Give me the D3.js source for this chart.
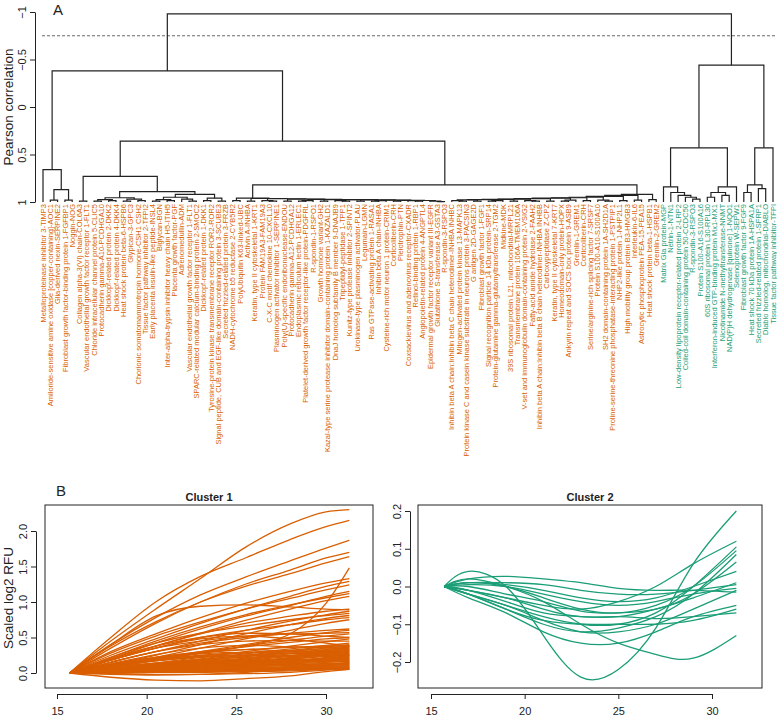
<!DOCTYPE html>
<html>
<head>
<meta charset="utf-8">
<script src="https://cdn.jsdelivr.net/npm/d3@7"></script>
<style>
  body { margin: 0; background: #fff; }
  text { font-family: Arial, "Liberation Sans", sans-serif; }
</style>
</head>
<body>
<svg id="chart" width="777" height="717"></svg>
<script>
// protein labels, leaf order of the dendrogram
var proteinsCluster1 = [
  "Metalloproteinase inhibitor 3-TIMP3",
  "Amiloride-sensitive amine oxidase [copper-containing]-AOC1",
  "Glia-derived nexin-SERPINE2",
  "Fibroblast growth factor-binding protein 1-FGFBP1",
  "Noggin-NOG",
  "Collagen alpha-3(VI) chain-COL6A3",
  "Vascular endothelial growth factor receptor 1-FLT1",
  "Chloride intracellular channel protein 5-CLIC5",
  "Protocadherin gamma-A10-PCDHGA10",
  "Dickkopf-related protein 2-DKK2",
  "Dickkopf-related protein 4-DKK4",
  "Heat shock protein beta-6-HSPB6",
  "Glypican-3-GPC3",
  "Chorionic somatomammotropin hormone-CSH1 CSH2",
  "Tissue factor pathway inhibitor 2-TFPI2",
  "Early placenta insulin-like peptide-INSL4",
  "Biglycan-BGN",
  "Inter-alpha-trypsin inhibitor heavy chain H5-ITIH5",
  "Placenta growth factor-PGF",
  "Adrenomedullin-ADM",
  "Vascular endothelial growth factor receptor 1-FLT1",
  "SPARC-related modular calcium-binding protein 2-SMOC2",
  "Dickkopf-related protein 1-DKK1",
  "Tyrosine-protein kinase transmembrane receptor ROR2-ROR2",
  "Signal peptide, CUB and EGF-like domain-containing protein 3-SCUBE3",
  "Secreted frizzled-related protein 3-FRZB",
  "NADH-cytochrome b5 reductase 2-CYB5R2",
  "PolyUbiquitin K63-linked-UBC",
  "Activin A-INHBA",
  "Keratin, type II cytoskeletal 1-KRT1",
  "Protein FAM19A3-FAM19A3",
  "C-X-C motif chemokine 10-CXCL10",
  "Plasminogen activator inhibitor 1-SERPINE1",
  "Poly(U)-specific endoribonuclease-ENDOU",
  "Protocadherin gamma-A12-PCDHGA12",
  "Endoplasmic reticulum lectin 1-ERLEC1",
  "Platelet-derived growth factor receptor-like protein-PDGFRL",
  "R-spondin-1-RSPO1",
  "Growth hormone variant-GH2",
  "Kazal-type serine protease inhibitor domain-containing protein 1-KAZALD1",
  "DnaJ homolog subfamily B member 9-DNAJB9",
  "Tripeptidyl-peptidase 1-TPP1",
  "Kunitz-type protease inhibitor 2-SPINT2",
  "Urokinase-type plasminogen activator-PLAU",
  "Legumain-LGMN",
  "Ras GTPase-activating protein 1-RASA1",
  "Inhibin beta A chain-INHBA",
  "Cysteine-rich motor neuron 1 protein-CRIM1",
  "Corticoliberin-CRH",
  "Pleiotrophin-PTN",
  "Coxsackievirus and adenovirus receptor-CXADR",
  "Retinol-binding protein 1-RBP1",
  "Angiopoietin-related protein 4-ANGPTL4",
  "Epidermal growth factor receptor variant III-EGFR",
  "Glutathione S-transferase A3-GSTA3",
  "R-spondin-3-RSPO3",
  "Inhibin beta A chain:Inhibin beta C chain heterodimer-INHBA INHBC",
  "Mitogen-activated protein kinase 13-MAPK13",
  "Protein kinase C and casein kinase substrate in neurons protein 3-PACSIN3",
  "G antigen 2D-GAGE2D",
  "Fibroblast growth factor 1-FGF1",
  "Signal recognition particle 14 kDa protein-SRP14",
  "Protein-glutamine gamma-glutamyltransferase 2-TGM2",
  "Midkine-MDK",
  "39S ribosomal protein L21, mitochondrial-MRPL21",
  "Transmembrane protein 106A-TMEM106A",
  "V-set and immunoglobulin domain-containing protein 2-VSIG2",
  "Fatty-acid amide hydrolase 2-FAAH2",
  "Inhibin beta A chain:Inhibin beta B chain heterodimer-INHBA INHBB",
  "Carboxypeptidase Z-CPZ",
  "Keratin, type II cytoskeletal 7-KRT7",
  "Homeodomain-only protein-HOPX",
  "Ankyrin repeat and SOCS box protein 9-ASB9",
  "Gremlin-1-GREM1",
  "Corticoliberin-CRH",
  "Serine/arginine-rich splicing factor 7-SRSF7",
  "Protein S100-A10-S100A10",
  "SH2 domain-containing protein 1A-SH2D1A",
  "Proline-serine-threonine phosphatase-interacting protein 1-PSTPIP1",
  "NHP2-like protein 1-NHP2L1",
  "High mobility group protein B3-HMGB3",
  "Interleukin-6-IL6",
  "Astrocytic phosphoprotein PEA-15-PEA15",
  "Heat shock protein beta-1-HSPB1",
  "Gremlin-2-GREM2"
];
var proteinsCluster2 = [
  "Matrix Gla protein-MGP",
  "Netrin-1-NTN1",
  "Low-density lipoprotein receptor-related protein 2-LRP2",
  "Coiled-coil domain-containing protein 50-CCDC50",
  "R-spondin-3-RSPO3",
  "Protein S100-A16-S100A16",
  "60S ribosomal protein L30-RPL30",
  "Interferon-induced GTP-binding protein Mx1-MX1",
  "Nicotinamide N-methyltransferase-NNMT",
  "NAD(P)H dehydrogenase [quinone] 1-NQO1",
  "Selenoprotein W-SEPW1",
  "Fibroblast growth factor 9-FGF9",
  "Heat shock 70 kDa protein 1A-HSPA1A",
  "Secreted frizzled-related protein 1-SFRP1",
  "Diablo homolog, mitochondrial-DIABLO",
  "Tissue factor pathway inhibitor-TFPI"
];

// dendrogram merges: [height, left, right]; a number is a leaf index
var middleLeft = [0.96, [0.985, 26, 27],
  [0.963, [0.99, 28, 29],
  [0.966, [0.985, 30, [0.99, 31, 32]],
  [0.969, [0.99, 33, 34],
  [0.972, [0.985, [0.99, 35, 36], 37],
  [0.974, [0.99, 38, 39],
  [0.976, [0.985, 40, [0.99, 41, 42]],
  [0.978, [0.99, 43, 44],
  [0.98, [0.985, [0.99, 45, 46], 47],
  [0.982, [0.99, 48, 49],
  [0.984, [0.985, 50, [0.99, 51, 52]], [0.99, 53, [0.995, 54, 55]]]]]]]]]]]]];

var middleRight = [0.92,
  [0.93,
  [0.94,
  [0.95,
  [0.955,
  [0.96,
  [0.965,
  [0.97,
  [0.972,
  [0.975,
    [0.978, [0.985, 56, [0.99, 57, 58]], [0.99, 59, 60]],
    [0.985, [0.99, 61, 62], 63]],
    [0.99, 64, 65]],
    [0.985, 66, [0.99, 67, 68]]],
    [0.99, 69, 70]],
    [0.98, [0.99, 71, 72], 73]],
    [0.985, 74, 75]],
    [0.98, 76, [0.99, 77, 78]]],
    [0.985, 79, 80]],
    [0.98, 81, 82]],
    [0.975, 83, 84]];

var greenBranch = [-0.44,
  [0.43,
    [0.84, 85, [0.9, 86, [0.93, 87, [0.95, 88, [0.97, 89, 90]]]]],
    [0.84, [0.9, [0.95, 91, 92], [0.93, 93, 94]], 95]],
  [0.43,
    [0.82, [0.9, 96, 97], [0.86, 98, 99]],
    100]];

var tree = [-0.98,
  [-0.38,
    [0.66, 0, [0.87, [0.98, 1, 2], [0.98, 3, 4]]],
    [0.36,
      [0.73, [0.99, 5, 6],
        [0.89,
          [0.955, [0.975, [0.99, 7, 8], [0.985, 9, 10]], [0.97, [0.99, 11, 12], [0.985, 13, 14]]],
          [0.92, [0.95, [0.975, [0.99, 15, 16], [0.985, 17, 18]], [0.97, 19, [0.99, 20, 21]]],
            [0.96, [0.985, 22, 23], [0.99, 24, 25]]]]],
      [0.82, middleLeft, middleRight]]],
  greenBranch];

var heightTicks = [-1, -0.5, 0, 0.5, 1];
var cutHeight = -0.75;

// scaled log2 RFU per protein, cluster 1
var days1 = [15.7, 18, 20.5, 23, 25.5, 28, 30, 31.3];
var rfuCluster1 = [
  [0, 0.45, 0.9, 1.33, 1.77, 2.1, 2.27, 2.3],
  [0, 0.5, 1.0, 1.36, 1.62, 1.88, 2.06, 2.15],
  [0, 0.4, 0.78, 1.1, 1.35, 1.58, 1.76, 1.87],
  [0, 0.35, 0.7, 1.0, 1.25, 1.45, 1.62, 1.7],
  [0, 0.38, 0.72, 1.0, 1.22, 1.4, 1.55, 1.64],
  [0, 0.1, 0.2, 0.28, 0.38, 0.55, 0.98, 1.48],
  [0, 0.3, 0.55, 0.78, 0.98, 1.15, 1.27, 1.33],
  [0, 0.25, 0.48, 0.7, 0.9, 1.08, 1.22, 1.29],
  [0, 0.28, 0.52, 0.72, 0.9, 1.05, 1.17, 1.24],
  [0, 0.2, 0.42, 0.62, 0.8, 0.95, 1.08, 1.15],
  [0, 0.22, 0.45, 0.65, 0.82, 0.96, 1.06, 1.12],
  [0, 0.18, 0.38, 0.56, 0.74, 0.9, 1.02, 1.08],
  [0, 0.4, 0.8, 0.94, 0.96, 0.93, 0.9, 0.89],
  [0, 0.2, 0.38, 0.55, 0.7, 0.8, 0.87, 0.9],
  [0, 0.15, 0.3, 0.45, 0.6, 0.73, 0.82, 0.87],
  [0, 0.22, 0.42, 0.56, 0.66, 0.75, 0.81, 0.84],
  [0, 0.12, 0.25, 0.4, 0.55, 0.68, 0.77, 0.81],
  [0, 0.18, 0.35, 0.5, 0.6, 0.68, 0.75, 0.78],
  [0, 0.1, 0.22, 0.35, 0.48, 0.6, 0.7, 0.75],
  [0, 0.2, 0.38, 0.5, 0.56, 0.55, 0.52, 0.5],
  [0, 0.15, 0.3, 0.42, 0.5, 0.56, 0.6, 0.62],
  [0, 0.1, 0.2, 0.3, 0.4, 0.5, 0.57, 0.6],
  [0, 0.18, 0.35, 0.45, 0.52, 0.55, 0.56, 0.57],
  [0, 0.08, 0.18, 0.28, 0.38, 0.46, 0.52, 0.55],
  [0, 0.12, 0.22, 0.3, 0.37, 0.43, 0.48, 0.5],
  [0, 0.06, 0.14, 0.22, 0.3, 0.38, 0.44, 0.48],
  [0, 0.15, 0.3, 0.4, 0.45, 0.46, 0.45, 0.45],
  [0, 0.05, 0.12, 0.2, 0.27, 0.34, 0.39, 0.42],
  [0, -0.06, -0.1, -0.11, -0.08, -0.04, 0.02, 0.05],
  [0, 0.18, 0.35, 0.48, 0.52, 0.48, 0.42, 0.38],
  [0, 0.06, 0.12, 0.19, 0.25, 0.32, 0.37, 0.40],
  [0, 0.12, 0.21, 0.28, 0.33, 0.36, 0.38, 0.39],
  [0, 0.02, 0.05, 0.08, 0.14, 0.22, 0.30, 0.38],
  [0, 0.13, 0.26, 0.35, 0.39, 0.37, 0.36, 0.37],
  [0, 0.05, 0.11, 0.17, 0.23, 0.28, 0.33, 0.36],
  [0, 0.11, 0.19, 0.25, 0.29, 0.32, 0.34, 0.35],
  [0, 0.05, 0.11, 0.16, 0.21, 0.27, 0.31, 0.34],
  [0, 0.02, 0.04, 0.07, 0.13, 0.19, 0.26, 0.33],
  [0, 0.05, 0.10, 0.15, 0.20, 0.25, 0.29, 0.32],
  [0, 0.11, 0.22, 0.29, 0.33, 0.31, 0.30, 0.31],
  [0, 0.09, 0.17, 0.22, 0.25, 0.28, 0.29, 0.30],
  [0, 0.04, 0.09, 0.14, 0.18, 0.23, 0.27, 0.29],
  [0, 0.01, 0.03, 0.06, 0.11, 0.16, 0.22, 0.28],
  [0, 0.04, 0.08, 0.13, 0.17, 0.21, 0.25, 0.27],
  [0, 0.08, 0.14, 0.19, 0.22, 0.24, 0.25, 0.26],
  [0, 0.04, 0.08, 0.12, 0.16, 0.20, 0.23, 0.25],
  [0, 0.08, 0.17, 0.23, 0.25, 0.24, 0.24, 0.24],
  [0, 0.03, 0.07, 0.11, 0.14, 0.18, 0.21, 0.23],
  [0, 0.01, 0.03, 0.05, 0.08, 0.13, 0.18, 0.22],
  [0, 0.06, 0.12, 0.15, 0.18, 0.19, 0.20, 0.21],
  [0, 0.03, 0.06, 0.09, 0.13, 0.16, 0.18, 0.20],
  [0, 0.03, 0.06, 0.09, 0.12, 0.15, 0.17, 0.19],
  [0, 0.06, 0.13, 0.17, 0.19, 0.18, 0.18, 0.18],
  [0, 0.05, 0.09, 0.12, 0.14, 0.16, 0.16, 0.17],
  [0, 0.02, 0.05, 0.08, 0.10, 0.13, 0.15, 0.16],
  [0, 0.01, 0.02, 0.03, 0.06, 0.09, 0.12, 0.15],
  [0, 0.02, 0.04, 0.07, 0.09, 0.11, 0.13, 0.14],
  [0, 0.04, 0.07, 0.09, 0.11, 0.12, 0.13, 0.13],
  [0, 0.02, 0.04, 0.06, 0.08, 0.09, 0.11, 0.12],
  [0, 0.04, 0.08, 0.10, 0.12, 0.11, 0.11, 0.11],
  [0, 0.02, 0.03, 0.05, 0.06, 0.08, 0.09, 0.10],
  [0, 0.00, 0.01, 0.02, 0.03, 0.05, 0.07, 0.09],
  [0, 0.01, 0.02, 0.04, 0.05, 0.06, 0.07, 0.08],
  [0, 0.02, 0.04, 0.05, 0.06, 0.06, 0.07, 0.07],
  [0, 0.01, 0.02, 0.03, 0.04, 0.05, 0.06, 0.06],
  [0, 0.01, 0.02, 0.02, 0.03, 0.04, 0.05, 0.05],
  [0, 0.06, 0.12, 0.18, 0.24, 0.30, 0.35, 0.38],
  [0, 0.02, 0.04, 0.08, 0.13, 0.20, 0.28, 0.35],
  [0, 0.10, 0.18, 0.24, 0.28, 0.30, 0.32, 0.33],
  [0, 0.05, 0.09, 0.14, 0.19, 0.24, 0.28, 0.30],
  [0, 0.10, 0.20, 0.27, 0.29, 0.28, 0.27, 0.28],
  [0, 0.04, 0.08, 0.12, 0.16, 0.21, 0.24, 0.26],
  [0, 0.01, 0.03, 0.05, 0.09, 0.14, 0.19, 0.24],
  [0, 0.03, 0.07, 0.10, 0.14, 0.17, 0.20, 0.22],
  [0, 0.06, 0.11, 0.14, 0.17, 0.18, 0.19, 0.20],
  [0, 0.03, 0.06, 0.08, 0.11, 0.14, 0.17, 0.18],
  [0, 0.06, 0.11, 0.15, 0.17, 0.16, 0.16, 0.16],
  [0, 0.01, 0.02, 0.03, 0.05, 0.08, 0.11, 0.14],
  [0, 0.04, 0.07, 0.09, 0.10, 0.11, 0.12, 0.12],
  [0, 0.02, 0.03, 0.05, 0.06, 0.08, 0.09, 0.10],
  [0, 0.03, 0.06, 0.08, 0.08, 0.08, 0.08, 0.08],
  [0, 0.00, 0.01, 0.01, 0.02, 0.03, 0.05, 0.06],
  [0, 0.08, 0.14, 0.16, 0.15, 0.17, 0.21, 0.25],
  [0, -0.02, -0.03, -0.02, 0.01, 0.05, 0.10, 0.15],
  [0, -0.01, -0.02, -0.02, -0.01, 0.01, 0.04, 0.07]
];

// cluster 2
var days2 = [15.7, 17, 19, 21, 23, 25, 27, 29, 31.3];
var rfuCluster2 = [
  [0, 0.04, 0.0, -0.13, -0.24, -0.22, -0.11, 0.06, 0.2],
  [0, 0.02, 0.0, -0.04, -0.1, -0.15, -0.18, -0.19, -0.13],
  [0, 0.02, 0.027, 0.02, 0.01, -0.005, -0.01, -0.01, -0.015],
  [0, -0.01, -0.03, -0.05, -0.06, -0.04, 0.0, 0.06, 0.12],
  [0, -0.02, -0.05, -0.08, -0.1, -0.1, -0.07, 0.0, 0.105],
  [0, 0.01, 0.0, -0.03, -0.06, -0.07, -0.05, 0.0, 0.095],
  [0, -0.02, -0.06, -0.1, -0.12, -0.11, -0.08, -0.02, 0.085],
  [0, 0.0, -0.02, -0.04, -0.065, -0.07, -0.06, -0.02, 0.065],
  [0, 0.01, 0.005, -0.01, -0.03, -0.04, -0.03, 0.0, 0.04],
  [0, -0.01, -0.04, -0.07, -0.08, -0.08, -0.06, -0.03, 0.01],
  [0, 0.01, 0.01, 0.005, -0.01, -0.02, -0.02, -0.01, 0.005],
  [0, 0.005, 0.0, -0.02, -0.04, -0.05, -0.04, -0.02, -0.005],
  [0, -0.02, -0.05, -0.09, -0.12, -0.12, -0.1, -0.06, -0.01],
  [0, -0.03, -0.07, -0.12, -0.15, -0.15, -0.12, -0.08, -0.05],
  [0, -0.02, -0.06, -0.09, -0.1, -0.1, -0.1, -0.09, -0.06],
  [0, -0.01, -0.03, -0.06, -0.08, -0.08, -0.085, -0.08, -0.07]
];

var dayTicks = [15, 20, 25, 30];
var rfuTicks1 = [0, 0.5, 1, 1.5, 2];
var rfuTicks2 = [-0.2, -0.1, 0, 0.1, 0.2];

var orange = "#d95f02", green = "#1b9e77", ink = "#222";
var svg = d3.select("#chart");
var labels = proteinsCluster1.concat(proteinsCluster2);

// ---------- A: dendrogram ----------
var xLeaf = d3.scalePoint().domain(d3.range(labels.length)).range([43, 773]);
var yDend = d3.scaleLinear().domain([-1, 1]).range([12, 202]);

// R style: tick labels parallel to the y axis
function rotateTicks(ax, off) {
  ax.selectAll(".tick text")
    .attr("transform", "rotate(-90)")
    .attr("x", 0).attr("y", -off).attr("dy", 0)
    .style("text-anchor", "middle");
}

var axA = svg.append("g").attr("transform", "translate(35,0)")
  .call(d3.axisLeft(yDend).tickValues(heightTicks).tickSize(5).tickSizeOuter(0)
    .tickFormat(function(d) { return d3.format("")(d); }))
  .attr("font-size", 11).attr("font-family", "Arial, sans-serif").attr("color", ink);
rotateTicks(axA, 9);

svg.append("text").attr("transform", "translate(12.5," + yDend(0) + ") rotate(-90)")
  .attr("text-anchor", "middle").attr("font-size", 13.5).attr("fill", ink)
  .text("Pearson correlation");
svg.append("text").attr("x", 58).attr("y", 15).attr("text-anchor", "middle")
  .attr("font-size", 15).attr("fill", ink).text("A");

svg.append("line").attr("x1", 42).attr("x2", 777)
  .attr("y1", yDend(cutHeight)).attr("y2", yDend(cutHeight))
  .attr("stroke", "#444").attr("stroke-width", 0.8).attr("stroke-dasharray", "3,2");

var dend = svg.append("g").attr("fill", "none").attr("stroke", ink).attr("stroke-width", 1.2);
function drawNode(node) {
  if (typeof node === "number") return { x: xLeaf(node), h: 1 };
  var a = drawNode(node[1]), b = drawNode(node[2]);
  dend.append("path").attr("d",
    "M" + a.x + "," + yDend(a.h) + "V" + yDend(node[0]) + "H" + b.x + "V" + yDend(b.h));
  return { x: (a.x + b.x) / 2, h: node[0] };
}
drawNode(tree);

svg.append("g").selectAll("text").data(labels).enter().append("text")
  .attr("transform", function(d, i) { return "translate(" + xLeaf(i) + ",204) rotate(-90)"; })
  .attr("dy", "0.35em").attr("text-anchor", "end").attr("font-size", 7.5)
  .attr("fill", function(d, i) { return i < proteinsCluster1.length ? orange : green; })
  .text(function(d) { return d; });

// ---------- B: profiles ----------
svg.append("text").attr("x", 61).attr("y", 496).attr("text-anchor", "middle")
  .attr("font-size", 15).attr("fill", ink).text("B");

function panel(opt) {
  var x = d3.scaleLinear().domain([15, 30]).range(opt.xr);
  var y = d3.scaleLinear().domain(opt.yd).range(opt.yr);
  var g = svg.append("g");

  var line = d3.line().curve(opt.curve)
    .x(function(d, i) { return x(opt.days[i]); })
    .y(function(d) { return y(d); });
  g.append("g").selectAll("path").data(opt.series).enter().append("path")
    .attr("d", line).attr("fill", "none").attr("stroke", opt.color).attr("stroke-width", 1.3);

  g.append("rect").attr("x", opt.box[0]).attr("y", 505)
    .attr("width", opt.box[1] - opt.box[0]).attr("height", 183)
    .attr("fill", "none").attr("stroke", ink).attr("stroke-width", 1);

  g.append("g").attr("transform", "translate(0,694)")
    .call(d3.axisBottom(x).tickValues(dayTicks).tickSize(5).tickSizeOuter(0).tickPadding(8))
    .attr("font-size", 11).attr("font-family", "Arial, sans-serif").attr("color", ink);

  var ay = g.append("g").attr("transform", "translate(" + opt.axisX + ",0)")
    .call(d3.axisLeft(y).tickValues(opt.ticks).tickSize(5).tickSizeOuter(0).tickFormat(d3.format(".1f")))
    .attr("font-size", 11).attr("font-family", "Arial, sans-serif").attr("color", ink);
  rotateTicks(ay, 9);

  g.append("text").attr("x", (opt.box[0] + opt.box[1]) / 2).attr("y", 501)
    .attr("text-anchor", "middle").attr("font-size", 11).attr("font-weight", "bold")
    .attr("fill", ink).text(opt.title);
}

panel({ title: "Cluster 1", series: rfuCluster1, days: days1, color: orange,
  xr: [57, 326], yd: [0, 2], yr: [673, 531], ticks: rfuTicks1,
  box: [45, 373], axisX: 36, curve: d3.curveMonotoneX });
panel({ title: "Cluster 2", series: rfuCluster2, days: days2, color: green,
  xr: [431, 712], yd: [-0.2, 0.2], yr: [662, 511], ticks: rfuTicks2,
  box: [418, 762], axisX: 410, curve: d3.curveNatural });

svg.append("text").attr("transform", "translate(12.5,598) rotate(-90)")
  .attr("text-anchor", "middle").attr("font-size", 13.5).attr("fill", ink)
  .text("Scaled log2 RFU");
</script>
</body>
</html>
